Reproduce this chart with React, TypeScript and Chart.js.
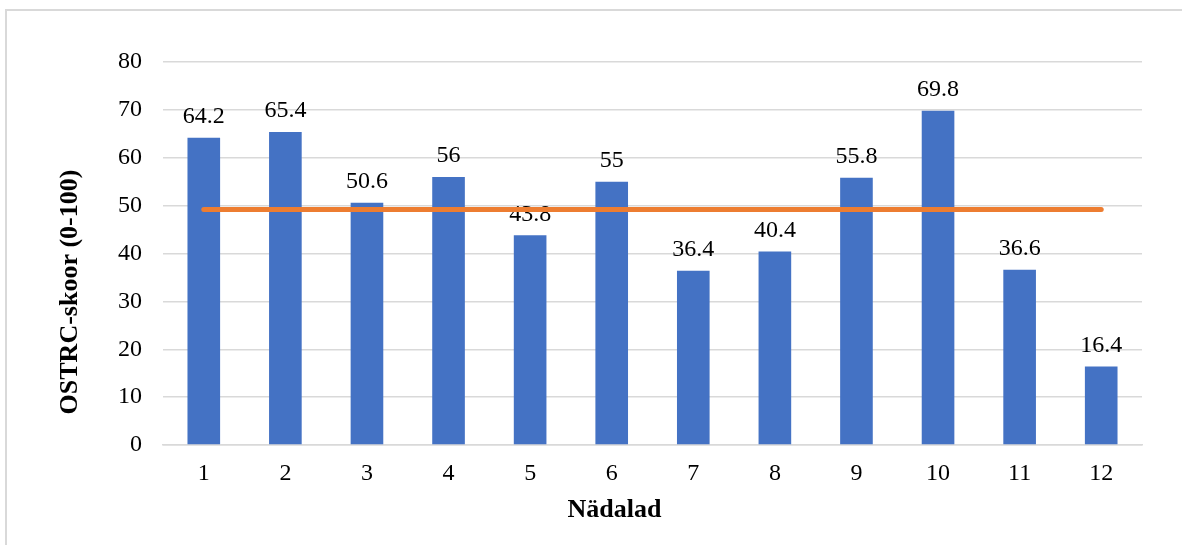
import React, { useEffect, useRef } from "react";
import { Chart, registerables } from "chart.js";

Chart.register(...registerables);

const weeks = ["1", "2", "3", "4", "5", "6", "7", "8", "9", "10", "11", "12"];
const scores = [64.2, 65.4, 50.6, 56, 43.8, 55, 36.4, 40.4, 55.8, 69.8, 36.6, 16.4];
const average = [49.2, 49.2, 49.2, 49.2, 49.2, 49.2, 49.2, 49.2, 49.2, 49.2, 49.2, 49.2];
const yTitle = "OSTRC-skoor (0-100)";
const xTitle = "Nädalad";

const SERIF = "'Liberation Serif', 'Times New Roman', serif";

const labelsPlugin = {
  id: "barLabels",
  afterDatasetDraw(chart: any, args: any) {
    if (args.index !== 0) return;
    const ctx = chart.ctx;
    const meta = chart.getDatasetMeta(0);
    ctx.save();
    ctx.font = `24px ${SERIF}`;
    ctx.fillStyle = "#000";
    ctx.textAlign = "center";
    ctx.textBaseline = "alphabetic";
    meta.data.forEach((el: any, i: number) => {
      ctx.fillText(String(scores[i]), el.x, el.y - 14.5);
    });
    ctx.restore();
  },
  afterDraw(chart: any) {
    const ctx = chart.ctx;
    ctx.save();
    ctx.font = `bold 26px ${SERIF}`;
    ctx.fillStyle = "#000";
    ctx.textAlign = "center";
    ctx.textBaseline = "alphabetic";
    ctx.fillText(xTitle, 614.5, 517);
    ctx.translate(77, 292);
    ctx.rotate(-Math.PI / 2);
    ctx.fillText(yTitle, 0, 0);
    ctx.restore();
  },
};

export default function App() {
  const ref = useRef<HTMLCanvasElement | null>(null);

  useEffect(() => {
    if (!ref.current) return;
    const chart = new Chart(ref.current, {
      type: "bar",
      data: {
        labels: weeks,
        datasets: [
          {
            type: "bar",
            data: scores,
            backgroundColor: "#4472C4",
            borderWidth: 0,
            barPercentage: 0.4,
            categoryPercentage: 1,
            order: 1,
          },
          {
            type: "line",
            data: average,
            borderColor: "#ED7D31",
            borderWidth: 5,
            borderCapStyle: "round",
            pointRadius: 0,
            fill: false,
            order: 0,
          } as any,
        ],
      },
      options: {
        animation: false,
        responsive: false,
        maintainAspectRatio: false,
        layout: { padding: { top: 62, right: 40, left: 0, bottom: 0 } },
        plugins: {
          legend: { display: false },
          tooltip: { enabled: false },
          title: { display: false },
        },
        scales: {
          x: {
            grid: { display: false, drawTicks: false },
            border: { display: true, color: "#d9d9d9", width: 1.5 },
            ticks: {
              color: "#000",
              font: { family: SERIF, size: 24 },
              padding: 14,
              maxRotation: 0,
            },
            afterFit(scale: any) {
              scale.height = 100;
            },
          },
          y: {
            min: 0,
            max: 80,
            ticks: {
              stepSize: 10,
              color: "#000",
              font: { family: SERIF, size: 24 },
              padding: 21,
            },
            grid: { color: "#d9d9d9", lineWidth: 1.5, drawTicks: false },
            border: { display: false },
            afterFit(scale: any) {
              scale.width = 163;
            },
          },
        },
      },
      plugins: [labelsPlugin],
    });
    return () => chart.destroy();
  }, []);

  return (
    <div
      style={{
        position: "fixed",
        left: 0,
        top: 0,
        width: 1182,
        height: 545,
        overflow: "hidden",
        background: "#fff",
      }}
    >
      <div
        style={{
          position: "absolute",
          left: 5,
          top: 9,
          width: 3000,
          height: 3000,
          borderTop: "2px solid #d9d9d9",
          borderLeft: "2px solid #d9d9d9",
        }}
      />
      <canvas
        ref={ref}
        width={1182}
        height={545}
        style={{ position: "absolute", left: 0, top: 0, width: 1182, height: 545 }}
      />
    </div>
  );
}
